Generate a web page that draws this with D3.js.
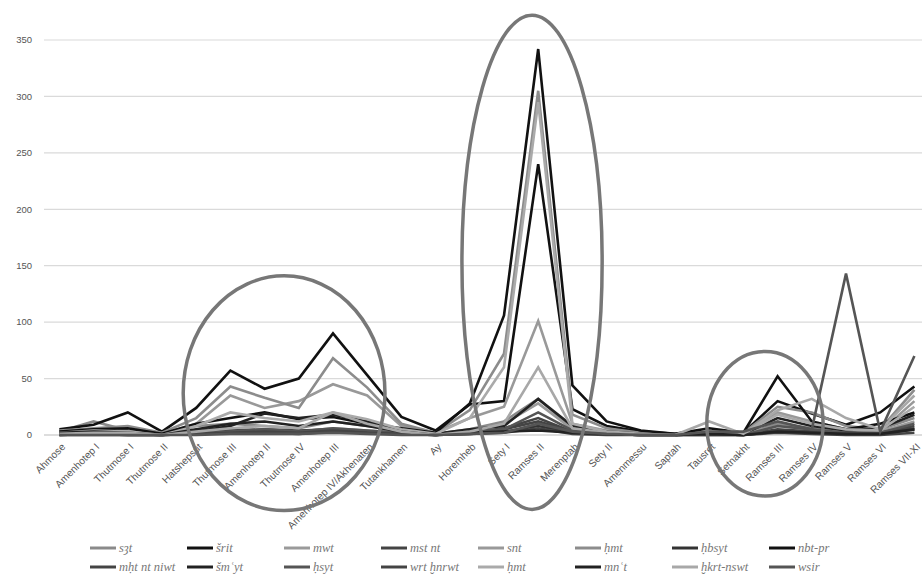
<!DOCTYPE html>
<html>
<head>
<meta charset="utf-8">
<script src="https://cdn.jsdelivr.net/npm/d3@7"></script>
<style>
  body { margin: 0; background: #fff; }
  svg { display: block; }
</style>
</head>
<body>
<svg id="chart" width="922" height="587"></svg>
<script>
// Inputs

const reigns = ["Ahmose", "Amenhotep I", "Thutmose I", "Thutmose II", "Hatshepsut", "Thutmose III",
  "Amenhotep II", "Thutmose IV", "Amenhotep III", "Amenhotep IV/Akhenaten", "Tutankhamen", "Ay",
  "Horemheb", "Sety I", "Ramses II", "Merenptah", "Sety II", "Amenmessu", "Saptah", "Tausret",
  "Setnakht", "Ramses III", "Ramses IV", "Ramses V", "Ramses VI", "Ramses VII-XI"];

const yTicks = [0, 50, 100, 150, 200, 250, 300, 350];

const titleNames = ["sȝt", "šrit", "mwt", "mst nt", "snt", "ḥmt", "ḥbsyt", "nbt-pr",
  "mḥt nt niwt", "šmʿyt", "ḥsyt", "wrt ḫnrwt", "ḥmt", "mnʿt", "ḫkrt-nswt", "wsir"];

const titleColors = ["#8a8a8a", "#111111", "#9a9a9a", "#444444", "#999999", "#8c8c8c", "#333333", "#111111",
  "#444444", "#222222", "#555555", "#444444", "#aaaaaa", "#222222", "#a8a8a8", "#555555"];

const s3t      = [3, 12, 4, 1, 8, 10, 8, 6, 12, 8, 4, 1, 5, 12, 32, 6, 3, 1, 0, 2, 1, 10, 6, 3, 5, 15];
const srit     = [5, 9, 20, 3, 24, 57, 41, 50, 90, 53, 16, 4, 27, 30, 240, 23, 8, 3, 1, 2, 2, 30, 19, 9, 20, 43];
const mwt      = [2, 3, 2, 1, 3, 5, 4, 3, 6, 4, 2, 1, 4, 10, 28, 5, 2, 1, 0, 1, 1, 8, 5, 2, 3, 12];
const mstNt    = [1, 2, 1, 0, 2, 3, 3, 2, 4, 3, 1, 0, 2, 5, 12, 3, 1, 0, 0, 1, 0, 5, 3, 2, 2, 8];
const snt      = [2, 4, 3, 1, 10, 35, 24, 30, 45, 35, 8, 2, 15, 25, 101, 10, 4, 1, 0, 2, 1, 20, 12, 5, 3, 30];
const hmt      = [4, 6, 8, 2, 15, 43, 33, 24, 68, 42, 10, 2, 22, 72, 305, 18, 6, 2, 1, 3, 2, 25, 20, 8, 5, 40];
const hbsyt    = [0, 1, 0, 0, 1, 2, 2, 1, 3, 2, 1, 0, 1, 3, 8, 2, 1, 0, 0, 0, 0, 3, 2, 1, 1, 5];
const nbtPr    = [3, 5, 6, 1, 10, 15, 20, 14, 16, 10, 6, 2, 28, 106, 342, 44, 12, 4, 1, 6, 2, 52, 12, 5, 10, 20];
const mhtNtNiwt = [1, 1, 1, 0, 2, 4, 5, 4, 5, 3, 2, 0, 2, 6, 15, 3, 1, 0, 0, 1, 0, 4, 3, 1, 2, 6];
const smayt    = [1, 2, 1, 0, 3, 8, 19, 15, 18, 12, 5, 1, 5, 8, 32, 8, 3, 1, 0, 2, 1, 15, 8, 4, 6, 18];
const hsyt     = [0, 1, 0, 0, 1, 3, 5, 3, 6, 4, 2, 0, 3, 5, 20, 4, 1, 0, 0, 1, 0, 8, 5, 2, 2, 10];
const wrtHnrwt = [0, 0, 0, 0, 1, 2, 3, 2, 4, 2, 1, 0, 1, 2, 6, 1, 0, 0, 0, 0, 0, 2, 1, 0, 0, 2];
const hmt2     = [2, 4, 3, 0, 8, 20, 15, 12, 20, 14, 5, 1, 15, 60, 295, 10, 3, 1, 0, 2, 1, 18, 10, 5, 4, 25];
const mnat     = [2, 3, 2, 0, 5, 10, 12, 8, 12, 8, 3, 0, 2, 3, 4, 2, 1, 0, 0, 1, 0, 3, 2, 1, 1, 5];
const hkrtNswt = [1, 2, 2, 0, 3, 6, 8, 6, 20, 10, 3, 0, 3, 10, 60, 6, 2, 0, 0, 12, 1, 22, 32, 15, 5, 35];
const wsir     = [0, 0, 0, 0, 0, 1, 1, 1, 2, 1, 0, 0, 1, 2, 10, 3, 1, 0, 0, 3, 3, 12, 5, 143, 3, 70];

const seriesValues = [s3t, srit, mwt, mstNt, snt, hmt, hbsyt, nbtPr,
  mhtNtNiwt, smayt, hsyt, wrtHnrwt, hmt2, mnat, hkrtNswt, wsir];

// Ellipse annotations: centre (category index, value) and radii (category steps, value units)
const marks = [
  { ci: 6.57, cv: 37, ri: 2.95, rv: 104 },
  { ci: 13.82, cv: 153, ri: 2.05, rv: 219 },
  { ci: 20.63, cv: 10, ri: 1.7, rv: 64 }
];

const drawChart = () => {
  const svg = d3.select("#chart");
  const gridLeft = 44;
  const gridRight = 922;

  // Scales
  const x = d3.scalePoint().domain(reigns).range([59.4, 914.4]);
  const y = d3.scaleLinear().domain([0, 350]).range([435, 40]);
  const step = x.step();
  const xAt = (i) => x(reigns[0]) + i * step;

  // Gridlines
  svg.append("g")
    .selectAll("line")
    .data(yTicks)
    .join("line")
    .attr("x1", gridLeft)
    .attr("x2", gridRight)
    .attr("y1", (d) => y(d))
    .attr("y2", (d) => y(d))
    .attr("stroke", (d) => (d === 0 ? "#bcbcbc" : "#dadada"))
    .attr("stroke-width", 1.2);

  // Y labels
  svg.append("g")
    .selectAll("text")
    .data(yTicks)
    .join("text")
    .attr("x", 32)
    .attr("y", (d) => y(d))
    .attr("dy", "0.35em")
    .attr("text-anchor", "end")
    .style("font-family", "Liberation Sans, Arial, sans-serif")
    .style("font-size", "9.5px")
    .style("fill", "#555")
    .text((d) => d);

  // X labels
  svg.append("g")
    .selectAll("text")
    .data(reigns)
    .join("text")
    .attr("transform", (d) => `translate(${x(d) + 4},${445}) rotate(-45)`)
    .attr("text-anchor", "end")
    .attr("dy", "0.35em")
    .style("font-family", "Liberation Sans, Arial, sans-serif")
    .style("font-size", "10.2px")
    .style("fill", "#555")
    .text((d) => d);

  // Lines
  const line = d3.line()
    .x((d, i) => x(reigns[i]))
    .y((d) => y(d));

  svg.append("g")
    .selectAll("path")
    .data(seriesValues)
    .join("path")
    .attr("d", (d) => line(d))
    .attr("fill", "none")
    .attr("stroke", (d, i) => titleColors[i])
    .attr("stroke-width", 2.6)
    .attr("stroke-linejoin", "miter");

  // Ellipses
  svg.append("g")
    .selectAll("ellipse")
    .data(marks)
    .join("ellipse")
    .attr("cx", (d) => xAt(d.ci))
    .attr("cy", (d) => y(d.cv))
    .attr("rx", (d) => d.ri * step)
    .attr("ry", (d) => y(0) - y(d.rv))
    .attr("fill", "none")
    .attr("stroke", "#777")
    .attr("stroke-width", 3.5);

  // Legend
  const legend = svg.append("g")
    .selectAll("g")
    .data(titleNames)
    .join("g")
    .attr("transform", (d, i) => `translate(${90 + (i % 8) * 97},${i < 8 ? 548 : 567})`);

  legend.append("line")
    .attr("x1", 0)
    .attr("x2", 26)
    .attr("stroke", (d, i) => titleColors[i])
    .attr("stroke-width", 3);

  legend.append("text")
    .attr("x", 29)
    .attr("dy", "0.35em")
    .style("font-family", "Liberation Serif, DejaVu Serif, serif")
    .style("font-style", "italic")
    .style("font-size", "12.5px")
    .style("fill", "#777")
    .text((d) => d);
};

drawChart();
</script>
</body>
</html>
